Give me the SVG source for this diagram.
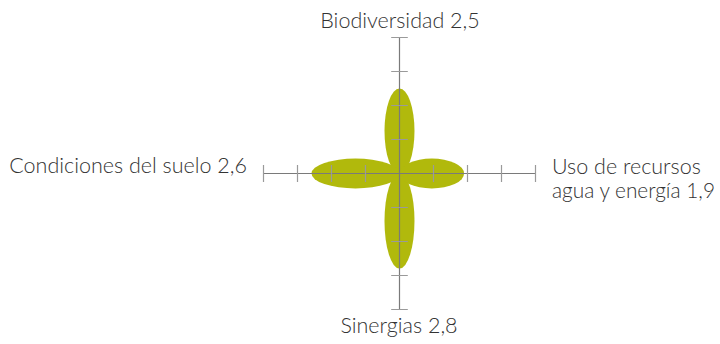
<svg xmlns="http://www.w3.org/2000/svg" width="720" height="344" viewBox="0 0 720 344">
<style>
.petal{fill:#b1b90c;}
.axis{stroke:#7a7a7a;stroke-width:1.2;fill:none;}
.tick{stroke:#9a9a9a;stroke-width:1.2;fill:none;}
.lbl{font-family:Lato,"Liberation Sans",sans-serif;font-weight:300;font-size:21.5px;fill:#333333;}
</style>
<rect width="720" height="344" fill="#ffffff"/>
<g id="petals">
<ellipse id="petal-biodiversidad" class="petal" cx="399.5" cy="131" rx="15" ry="42.5"/>
<ellipse id="petal-sinergias" class="petal" cx="399.5" cy="221" rx="15" ry="47.5"/>
<ellipse id="petal-suelo" class="petal" cx="355.5" cy="173.5" rx="44" ry="15"/>
<ellipse id="petal-recursos" class="petal" cx="431.8" cy="173.5" rx="32.3" ry="15"/>
</g>
<g id="axes">
<line class="axis" x1="399.5" y1="37.5" x2="399.5" y2="309.5"/>
<line class="axis" x1="263.5" y1="173.5" x2="535.5" y2="173.5"/>
<path class="tick" d="M391.2 37.5H407.8M391.2 71.5H407.8M391.2 105.5H407.8M391.2 139.5H407.8M391.2 207.5H407.8M391.2 241.5H407.8M391.2 275.5H407.8M391.2 309.5H407.8"/>
<path class="tick" d="M263.5 165V182M297.5 165V182M331.5 165V182M365.5 165V182M433.5 165V182M467.5 165V182M501.5 165V182M535.5 165V182"/>
</g>
<g id="labels">
<text id="label-biodiversidad" class="lbl" x="400" y="28" text-anchor="middle">Biodiversidad 2,5</text>
<text id="label-sinergias" class="lbl" x="399" y="333" text-anchor="middle">Sinergias 2,8</text>
<text id="label-suelo" class="lbl" x="247" y="173" text-anchor="end">Condiciones del suelo 2,6</text>
<text id="label-recursos-1" class="lbl" x="552" y="174">Uso de recursos</text>
<text id="label-recursos-2" class="lbl" x="552" y="198" textLength="163" lengthAdjust="spacingAndGlyphs">agua y energía 1,9</text>
</g>
</svg>
